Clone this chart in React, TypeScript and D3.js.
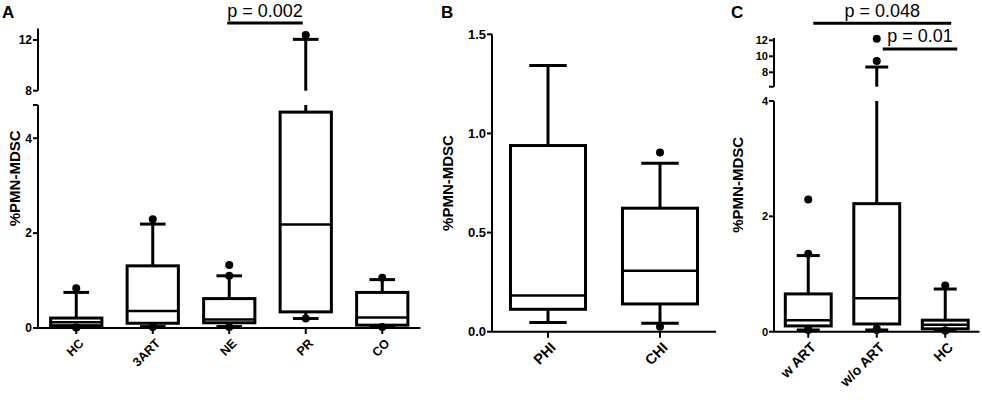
import * as d3 from 'd3';

// ---- data ----
// each row: [lower whisker, Q1, median, Q3, upper whisker]
const groupsA = ['HC', '3ART', 'NE', 'PR', 'CO'];
const statsA = [
  [0.02, 0.05, 0.12, 0.21, 0.75],
  [0.03, 0.1, 0.36, 1.31, 2.19],
  [0.03, 0.11, 0.18, 0.62, 1.1],
  [0.2, 0.34, 2.18, 4.55, 12.05],
  [0.02, 0.06, 0.22, 0.75, 1.02],
];
const outliersA = [
  [0.84, 0.01, 0.01],
  [2.29, 0.03, 0.02],
  [1.1, 1.33, 0.02],
  [12.4, 0.2],
  [1.06, 0.02],
];

const groupsB = ['PHI', 'CHI'];
const statsB = [
  [0.047, 0.113, 0.182, 0.939, 1.343],
  [0.042, 0.14, 0.308, 0.623, 0.85],
];
const outliersB = [[], [0.904, 0.025]];

const groupsC = ['w ART', 'w/o ART', 'HC'];
const statsC = [
  [0.03, 0.1, 0.2, 0.655, 1.32],
  [0.03, 0.134, 0.58, 2.22, 8.66],
  [0.02, 0.05, 0.12, 0.2, 0.74],
];
const outliersC = [
  [1.35, 2.29, 0.03, 0.04],
  [9.4, 12.2, 0.05, 0.03],
  [0.8, 0.02, 0.02],
];

const FONT = '"Liberation Sans", Arial, sans-serif';

type Seg = { domain: number[]; range: number[]; ticks: number[]; endTicks?: number[] };
type Bracket = { from: string; to: string; y: number; label: string; textY: number; pad: number[] };

function Panel(props: {
  letter: string; letterX: number;
  x0: number; x1: number;
  segs: Seg[];
  groups: string[]; stats: number[][]; outliers: number[][];
  fmt: (v: number) => string;
  tickSize: number; labelSize: number; titleOffset: number;
  brackets?: Bracket[];
}) {
  const { segs, groups, stats, outliers, fmt } = props;
  const x = d3.scalePoint<string>().domain(groups).range([props.x0, props.x1]).padding(0.5);
  const bw = x.step() * 0.67;
  const ys = segs.map(s => d3.scaleLinear().domain(s.domain).range(s.range));
  const yOf = (v: number) => {
    const sc = ys.find(s => v >= s.domain()[0] - 1e-9 && v <= s.domain()[1] + 1e-9) || ys[0];
    return sc(v);
  };
  const base = segs[0].range[0];
  const ax = props.x0;
  const top = d3.min(segs, s => s.range[1]) as number;

  // vertical whisker, split across an axis break
  const vline = (cx: number, v1: number, v2: number, key: string) =>
    ys.map((sc, i) => {
      const [a, b] = sc.domain();
      const lo = Math.max(v1, a), hi = Math.min(v2, b);
      if (lo >= hi) return null;
      return <line key={key + i} x1={cx} x2={cx} y1={sc(lo)} y2={sc(hi)} stroke="#000" strokeWidth={3} />;
    });

  return (
    <g fontFamily={FONT}>
      <text x={props.letterX} y={18} fontSize={17} fontWeight="bold">{props.letter}</text>

      {/* y axis segments */}
      {segs.map((s, i) => (
        <g key={'seg' + i}>
          <line x1={ax} x2={ax} y1={s.range[0]} y2={s.range[1]} stroke="#000" strokeWidth={2} />
          {s.ticks.map(t => (
            <g key={t}>
              <line x1={ax - 5} x2={ax} y1={ys[i](t)} y2={ys[i](t)} stroke="#000" strokeWidth={2} />
              <text x={ax - 6} y={ys[i](t)} dy="0.36em" textAnchor="end" fontSize={props.tickSize} fontWeight="bold">{fmt(t)}</text>
            </g>
          ))}
          {(s.endTicks || []).map(t => (
            <line key={'e' + t} x1={ax - 5} x2={ax} y1={ys[i](t)} y2={ys[i](t)} stroke="#000" strokeWidth={2} />
          ))}
        </g>
      ))}
      <text transform={`translate(${ax + props.titleOffset},${(top + base) / 2}) rotate(-90)`} textAnchor="middle" dy="0.36em" fontSize={15} fontWeight="bold">%PMN-MDSC</text>

      {/* x axis */}
      <line x1={ax - 1} x2={props.x1} y1={base} y2={base} stroke="#000" strokeWidth={2} />
      {groups.map(g => (
        <g key={g}>
          <line x1={x(g)} x2={x(g)} y1={base} y2={base + 6} stroke="#000" strokeWidth={2} />
          <text transform={`translate(${(x(g) as number) + 5},${base + 13}) rotate(-45)`} textAnchor="end" dy="0.36em" fontSize={props.labelSize} fontWeight="bold">{g}</text>
        </g>
      ))}

      {/* boxes */}
      {groups.map((g, i) => {
        const cx = x(g) as number;
        const [lw, q1, md, q3, hw] = stats[i];
        return (
          <g key={'b' + g}>
            {vline(cx, q3, hw, 'hu')}
            {vline(cx, lw, q1, 'hl')}
            <line x1={cx - bw / 4} x2={cx + bw / 4} y1={yOf(hw)} y2={yOf(hw)} stroke="#000" strokeWidth={3} />
            <line x1={cx - bw / 4} x2={cx + bw / 4} y1={yOf(lw)} y2={yOf(lw)} stroke="#000" strokeWidth={3} />
            <rect x={cx - bw / 2} y={yOf(q3)} width={bw} height={yOf(q1) - yOf(q3)} fill="#fff" stroke="#000" strokeWidth={3} />
            <line x1={cx - bw / 2} x2={cx + bw / 2} y1={yOf(md)} y2={yOf(md)} stroke="#000" strokeWidth={2.5} />
            {outliers[i].map((v, j) => (
              <circle key={j} cx={cx} cy={yOf(v)} r={4} fill="#000" />
            ))}
          </g>
        );
      })}

      {/* significance brackets */}
      {(props.brackets || []).map(b => {
        const xa = (x(b.from) as number) + b.pad[0];
        const xb = (x(b.to) as number) + b.pad[1];
        return (
          <g key={b.label}>
            <line x1={xa} x2={xb} y1={b.y} y2={b.y} stroke="#000" strokeWidth={3} />
            <text x={(xa + xb) / 2} y={b.textY} textAnchor="middle" fontSize={18}>{b.label}</text>
          </g>
        );
      })}
    </g>
  );
}

export default function App() {
  const f0 = d3.format('d');
  const f1 = d3.format('.1f');
  return (
    <svg width={982} height={400} style={{ position: 'absolute', left: 0, top: 0, background: '#fff' }}>
      <Panel
        letter="A" letterX={2}
        x0={38} x1={420.5}
        segs={[
          { domain: [0, 4.7], range: [328, 105], ticks: [0, 2, 4], endTicks: [4.7] },
          { domain: [8, 12.9], range: [90.7, 28.6], ticks: [8, 12] },
        ]}
        groups={groupsA} stats={statsA} outliers={outliersA}
        fmt={f0} tickSize={12} labelSize={12.5} titleOffset={-23}
        brackets={[{ from: 'NE', to: 'PR', y: 23, label: 'p = 0.002', textY: 17, pad: [-2, -3] }]}
      />
      <Panel
        letter="B" letterX={441}
        x0={492} x1={716}
        segs={[{ domain: [0, 1.5], range: [331.7, 34.3], ticks: [0, 0.5, 1, 1.5] }]}
        groups={groupsB} stats={statsB} outliers={outliersB}
        fmt={f1} tickSize={13} labelSize={14.5} titleOffset={-44}
      />
      <Panel
        letter="C" letterX={731}
        x0={774} x1={979.5}
        segs={[
          { domain: [0, 4], range: [331.7, 101], ticks: [0, 2, 4] },
          { domain: [6.2, 12.3], range: [86.7, 37.9], ticks: [8, 10, 12], endTicks: [6.2] },
        ]}
        groups={groupsC} stats={statsC} outliers={outliersC}
        fmt={f0} tickSize={11} labelSize={14} titleOffset={-36}
        brackets={[
          { from: 'w ART', to: 'HC', y: 23.3, label: 'p = 0.048', textY: 17, pad: [5, 6] },
          { from: 'w/o ART', to: 'HC', y: 49, label: 'p = 0.01', textY: 42, pad: [6, 12] },
        ]}
      />
    </svg>
  );
}
